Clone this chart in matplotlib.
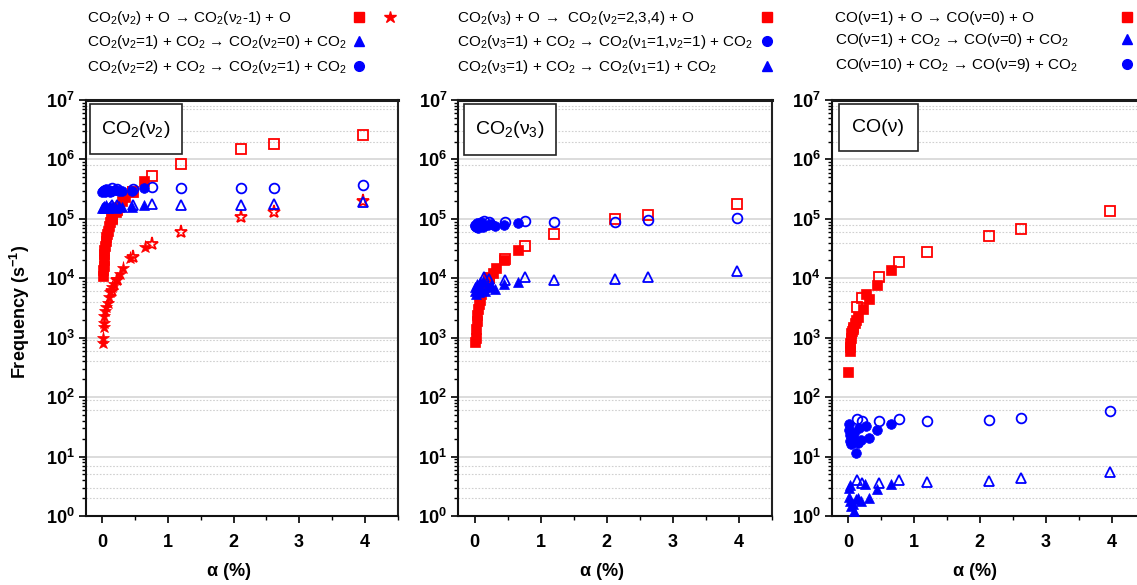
import math
import matplotlib
matplotlib.use("Agg")
import matplotlib.pyplot as plt
from matplotlib.ticker import FuncFormatter, FixedLocator, NullFormatter
from matplotlib.patches import Rectangle
from matplotlib.lines import Line2D

plt.rcParams['font.family'] = ['Liberation Sans', 'DejaVu Sans']
plt.rcParams['mathtext.fontset'] = 'custom'
plt.rcParams['mathtext.rm'] = 'Liberation Sans'
plt.rcParams['mathtext.it'] = 'Liberation Sans:italic'
plt.rcParams['mathtext.bf'] = 'Liberation Sans:bold'

RED = '#ff0000'
BLUE = '#0000ff'

# ---------------- data ----------------
# open-symbol alpha values (shared)
alpha_open = [0.14, 0.22, 0.46, 0.76, 1.20, 2.12, 2.62, 3.97]

# Panel 1: CO2(v2)
p1_sq_a = [0.01, 0.01, 0.02, 0.02, 0.03, 0.03, 0.04, 0.05, 0.06, 0.07, 0.08, 0.10, 0.12, 0.15, 0.20, 0.25, 0.30, 0.35, 0.45, 0.63]
p1_sq_f = [1.1e4, 1.4e4, 1.6e4, 2.0e4, 2.6e4, 3.0e4, 3.5e4, 4.2e4, 5.0e4, 5.6e4, 6.3e4, 7.5e4, 9.0e4, 1.05e5, 1.3e5, 1.6e5, 2.0e5, 2.3e5, 3.0e5, 4.4e5]
p1_sq_open_f = [1.0e5, 1.4e5, 2.8e5, 5.2e5, 8.3e5, 1.5e6, 1.8e6, 2.6e6]
p1_star_a = [0.01, 0.01, 0.02, 0.02, 0.03, 0.04, 0.06, 0.08, 0.10, 0.12, 0.15, 0.18, 0.22, 0.27, 0.32, 0.42, 0.65]
p1_star_f = [830, 1000, 1500, 1800, 2300, 2800, 3300, 3800, 4800, 5800, 7000, 8000, 9800, 1.2e4, 1.5e4, 2.2e4, 3.3e4]
p1_star_open_f = [6.0e3, 9.5e3, 2.3e4, 3.8e4, 6.0e4, 1.07e5, 1.3e5, 2.0e5]
p1_blue_a = [0.0, 0.01, 0.02, 0.03, 0.04, 0.05, 0.06, 0.08, 0.10, 0.12, 0.15, 0.20, 0.25, 0.30, 0.45, 0.63]
p1_circ_f = [2.8e5, 3.0e5, 2.9e5, 3.1e5, 2.8e5, 3.2e5, 2.9e5, 3.0e5, 3.1e5, 2.8e5, 3.0e5, 3.1e5, 2.9e5, 3.0e5, 3.0e5, 3.3e5]
p1_circ_open_f = [3.3e5, 3.2e5, 3.2e5, 3.4e5, 3.3e5, 3.3e5, 3.35e5, 3.7e5]
p1_tri_f = [1.5e5, 1.6e5, 1.55e5, 1.65e5, 1.5e5, 1.6e5, 1.7e5, 1.55e5, 1.6e5, 1.65e5, 1.6e5, 1.55e5, 1.65e5, 1.6e5, 1.6e5, 1.7e5]
p1_tri_open_f = [1.7e5, 1.7e5, 1.7e5, 1.75e5, 1.7e5, 1.7e5, 1.75e5, 1.9e5]

# Panel 2: CO2(v3)
p2_sq_a = [0.01, 0.02, 0.02, 0.03, 0.03, 0.05, 0.06, 0.08, 0.10, 0.13, 0.18, 0.22, 0.27, 0.32, 0.45, 0.65]
p2_sq_f = [850, 1000, 1400, 1900, 2400, 3000, 3700, 4300, 5500, 6500, 8000, 1.0e4, 1.25e4, 1.5e4, 2.0e4, 3.0e4]
p2_sq_open_f = [7.0e3, 1.0e4, 2.1e4, 3.5e4, 5.6e4, 1.0e5, 1.16e5, 1.77e5]
p2_blue_a = [0.0, 0.01, 0.02, 0.03, 0.04, 0.05, 0.06, 0.08, 0.10, 0.12, 0.15, 0.20, 0.25, 0.30, 0.45, 0.66]
p2_circ_f = [7.5e4, 8.0e4, 7.2e4, 8.5e4, 7.8e4, 7.0e4, 8.2e4, 7.6e4, 8.8e4, 7.4e4, 8.0e4, 7.8e4, 8.2e4, 7.6e4, 8.0e4, 8.5e4]
p2_circ_open_f = [9.2e4, 8.8e4, 8.8e4, 9.2e4, 8.8e4, 8.8e4, 9.4e4, 1.04e5]
p2_tri_f = [6.0e3, 7.0e3, 5.5e3, 8.0e3, 6.5e3, 7.5e3, 5.8e3, 8.5e3, 6.8e3, 9.0e3, 6.2e3, 7.2e3, 7.8e3, 6.5e3, 8.0e3, 8.7e3]
p2_tri_open_f = [1.04e4, 9.7e3, 9.2e3, 1.04e4, 9.2e3, 9.6e3, 1.05e4, 1.34e4]

# Panel 3: CO(v)
alpha_open3 = [0.13, 0.21, 0.46, 0.77, 1.20, 2.13, 2.62, 3.97]
p3_sq_a = [0.0, 0.02, 0.03, 0.03, 0.04, 0.05, 0.06, 0.07, 0.08, 0.10, 0.12, 0.15, 0.22, 0.27, 0.32, 0.44, 0.65]
p3_sq_f = [260, 600, 700, 800, 1000, 1200, 1300, 1400, 1500, 1800, 2000, 2200, 3000, 5500, 4400, 7800, 1.4e4]
p3_sq_open_f = [3.3e3, 4.7e3, 1.05e4, 1.9e4, 2.75e4, 5.1e4, 6.7e4, 1.35e5]
p3_circ_a = [0.01, 0.01, 0.02, 0.03, 0.05, 0.07, 0.09, 0.12, 0.15, 0.17, 0.20, 0.27, 0.32, 0.44, 0.65]
p3_circ_f = [28, 35, 23, 18, 16, 20, 25, 11.5, 17, 30, 19, 33, 20.5, 28.5, 35.5]
p3_circ_open_f = [43, 40, 40, 43, 39, 41, 45, 58]
p3_tri_a = [0.01, 0.01, 0.02, 0.03, 0.05, 0.07, 0.09, 0.10, 0.12, 0.15, 0.20, 0.25, 0.32, 0.44, 0.65]
p3_tri_f = [3.0, 2.1, 3.3, 1.8, 1.45, 1.6, 1.2, 1.05, 1.9, 2.0, 1.8, 3.4, 2.0, 2.8, 3.45]
p3_tri_open_f = [4.1, 3.6, 3.6, 4.1, 3.7, 3.9, 4.35, 5.6]

x_ticks = [0, 1, 2, 3, 4]
x_minor_ticks = [0.5, 1.5, 2.5, 3.5, 4.5]
y_ticks = [1, 1e1, 1e2, 1e3, 1e4, 1e5, 1e6, 1e7]

panel_titles = [r"CO$_2$(ν$_2$)", r"CO$_2$(ν$_3$)", r"CO(ν)"]
legend_rows = [
    [r"CO$_2$(ν$_2$) + O → CO$_2$(ν$_2$-1) + O",
     r"CO$_2$(ν$_2$=1) + CO$_2$ → CO$_2$(ν$_2$=0) + CO$_2$",
     r"CO$_2$(ν$_2$=2) + CO$_2$ → CO$_2$(ν$_2$=1) + CO$_2$"],
    [r"CO$_2$(ν$_3$) + O →  CO$_2$(ν$_2$=2,3,4) + O",
     r"CO$_2$(ν$_3$=1) + CO$_2$ → CO$_2$(ν$_1$=1,ν$_2$=1) + CO$_2$",
     r"CO$_2$(ν$_3$=1) + CO$_2$ → CO$_2$(ν$_1$=1) + CO$_2$"],
    [r"CO(ν=1) + O → CO(ν=0) + O",
     r"CO(ν=1) + CO$_2$ → CO(ν=0) + CO$_2$",
     r"CO(ν=10) + CO$_2$ → CO(ν=9) + CO$_2$"],
]
legend_markers = [['s', '^', 'o'], ['s', 'o', '^'], ['s', '^', 'o']]
legend_colors = [[RED, BLUE, BLUE], [RED, BLUE, BLUE], [RED, BLUE, BLUE]]

# ---------------- figure ----------------
W, H = 1137, 585
fig = plt.figure(figsize=(W / 100, H / 100), dpi=100)

AX_TOP, AX_BOT = 100, 516
panel_px = [(86, 397.5), (458.3, 771.7), (831.7, 1145)]
minor_grid = [2, 3, 5, 7, 60, 90, 400, 600, 900, 4e3, 6e3, 8.5e3, 4e4, 6e4, 8e4, 8e5, 2e6, 3e6, 7e6, 8e6]
box_px = [(90, 182, 104.5, 154), (463.5, 556, 104, 155), (838.5, 918, 104, 150.7)]
minor_y = [m * 10.0 ** d for d in range(0, 7) for m in range(2, 10)]

ylog_fmt = FuncFormatter(lambda v, p: r"$\mathbf{10^{%d}}$" % round(math.log10(v)))
x_fmt = FuncFormatter(lambda v, p: r"$\mathbf{%d}$" % round(v))

axes = []
for i, (l, r) in enumerate(panel_px):
    ax = fig.add_axes([l / W, 1 - AX_BOT / H, (r - l) / W, (AX_BOT - AX_TOP) / H])
    ax.set_yscale('log')
    ax.set_ylim(1, 1e7)
    ax.set_xlim(-0.25, 4.5)
    for d in range(1, 7):
        ax.axhline(10.0 ** d, color='#d6d6d6', lw=1.2, zorder=0)
    for g in minor_grid:
        ax.axhline(g, color='#d0d0d0', lw=0.8, ls=(0, (1.5, 1.5)), zorder=0)
    ax.yaxis.set_major_locator(FixedLocator(y_ticks))
    ax.yaxis.set_minor_locator(FixedLocator(minor_y))
    ax.yaxis.set_major_formatter(ylog_fmt)
    ax.yaxis.set_minor_formatter(NullFormatter())
    ax.xaxis.set_major_locator(FixedLocator(x_ticks))
    ax.xaxis.set_minor_locator(FixedLocator(x_minor_ticks))
    ax.xaxis.set_major_formatter(x_fmt)
    ax.xaxis.set_minor_formatter(NullFormatter())
    ax.tick_params(axis='both', which='major', direction='out', length=5, width=1.2, labelsize=13, colors='black')
    ax.tick_params(axis='both', which='minor', direction='out', length=3, width=1.0)
    ax.tick_params(axis='x', which='major', pad=8)
    ax.tick_params(axis='y', which='major', pad=3)
    for s in ['left', 'bottom']:
        ax.spines[s].set_linewidth(1.5)
        ax.spines[s].set_color('#111111')
    ax.spines['top'].set_linewidth(2.2)
    ax.spines['top'].set_color('#1a1a1a')
    ax.spines['right'].set_linewidth(1.5)
    ax.spines['right'].set_color('#222222')
    # label box
    bx0, bx1, by0, by1 = box_px[i]
    fx0 = (bx0 - l) / (r - l)
    fx1 = (bx1 - l) / (r - l)
    fy0 = (AX_BOT - by1) / (AX_BOT - AX_TOP)
    fy1 = (AX_BOT - by0) / (AX_BOT - AX_TOP)
    ax.add_patch(Rectangle((fx0, fy0), fx1 - fx0, fy1 - fy0, transform=ax.transAxes,
                           facecolor='white', edgecolor='#222222', lw=1.2, zorder=5))
    ax.text((fx0 + fx1) / 2, (fy0 + fy1) / 2, panel_titles[i], transform=ax.transAxes,
            ha='center', va='center', fontsize=14, zorder=6)
    axes.append(ax)

ms_sq, ms_circ, ms_tri, ms_star = 6.5, 7.0, 7.5, 9.5
mew = 1.3

def filled(ax, x, y, m, c, ms):
    ax.plot(x, y, ls='none', marker=m, ms=ms, color=c, mec=c, mew=0.5, zorder=3)

def hollow(ax, x, y, m, c, ms):
    ax.plot(x, y, ls='none', marker=m, ms=ms, mfc='none', mec=c, mew=mew, zorder=3)

ax1, ax2, ax3 = axes
# panel 1
filled(ax1, p1_sq_a, p1_sq_f, 's', RED, ms_sq)
hollow(ax1, alpha_open, p1_sq_open_f, 's', RED, ms_sq)
filled(ax1, p1_star_a, p1_star_f, '*', RED, ms_star)
hollow(ax1, alpha_open, p1_star_open_f, '*', RED, ms_star)
filled(ax1, p1_blue_a, p1_tri_f, '^', BLUE, ms_tri)
hollow(ax1, alpha_open, p1_tri_open_f, '^', BLUE, ms_tri)
filled(ax1, p1_blue_a, p1_circ_f, 'o', BLUE, ms_circ)
hollow(ax1, alpha_open, p1_circ_open_f, 'o', BLUE, ms_circ)
# panel 2
filled(ax2, p2_sq_a, p2_sq_f, 's', RED, ms_sq)
hollow(ax2, alpha_open, p2_sq_open_f, 's', RED, ms_sq)
filled(ax2, p2_blue_a, p2_tri_f, '^', BLUE, ms_tri)
hollow(ax2, alpha_open, p2_tri_open_f, '^', BLUE, ms_tri)
filled(ax2, p2_blue_a, p2_circ_f, 'o', BLUE, ms_circ)
hollow(ax2, alpha_open, p2_circ_open_f, 'o', BLUE, ms_circ)
# panel 3
filled(ax3, p3_sq_a, p3_sq_f, 's', RED, ms_sq)
hollow(ax3, alpha_open3, p3_sq_open_f, 's', RED, ms_sq)
filled(ax3, p3_tri_a, p3_tri_f, '^', BLUE, ms_tri)
hollow(ax3, alpha_open3, p3_tri_open_f, '^', BLUE, ms_tri)
filled(ax3, p3_circ_a, p3_circ_f, 'o', BLUE, ms_circ)
hollow(ax3, alpha_open3, p3_circ_open_f, 'o', BLUE, ms_circ)

# axis labels
fig.text(20 / W, 1 - 312 / H, r"$\mathbf{Frequency\ (s^{-1})}$", rotation=90,
         ha='center', va='center', fontsize=13)
for ax, (l, r) in zip(axes, panel_px):
    xc = ax.transData.transform((2, 1))[0] - 5
    fig.text(xc / W, 1 - 572 / H, "α (%)", ha='center', va='center',
             fontsize=13, fontweight='bold')

# header legends
text_x = [87, 457, 835]
marker_x = [359, 767, 1127]
row_y = [[18, 42, 67], [18, 42, 67], [18, 40, 65]]
for k in range(3):
    for j in range(3):
        y = row_y[k][j]
        fig.text(text_x[k] / W, 1 - y / H, legend_rows[k][j], ha='left', va='center', fontsize=11)
        fig.add_artist(Line2D([marker_x[k] / W], [1 - (y - 1) / H], transform=fig.transFigure,
                              ls='none', marker=legend_markers[k][j], ms=7,
                              color=legend_colors[k][j], mec=legend_colors[k][j]))
fig.add_artist(Line2D([390 / W], [1 - 17 / H], transform=fig.transFigure, ls='none',
                      marker='*', ms=9, color=RED, mec=RED))

fig.savefig("out.png", dpi=100)
